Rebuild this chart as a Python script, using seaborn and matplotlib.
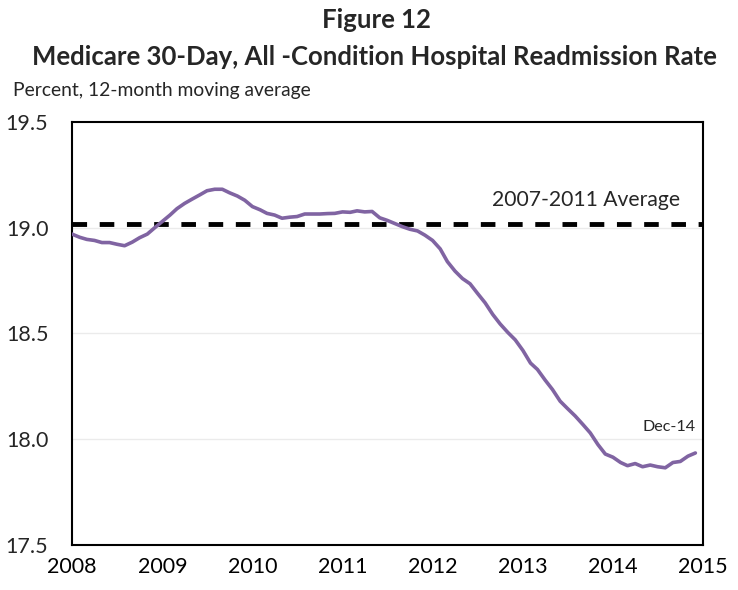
import pandas as pd
import matplotlib.pyplot as plt
import seaborn as sns

# Monthly readmission rate, 12-month moving average (Jan 2008 - Dec 2014)
months = pd.date_range("2008-01-01", "2014-12-01", freq="MS")
rate = [
    18.97, 18.955, 18.945, 18.94, 18.93, 18.93, 18.922, 18.915, 18.932, 18.953, 18.97, 19.0,      # 2008
    19.03, 19.06, 19.09, 19.115, 19.135, 19.155, 19.175, 19.182, 19.182, 19.165, 19.15, 19.13,    # 2009
    19.1, 19.085, 19.068, 19.06, 19.045, 19.05, 19.053, 19.065, 19.065, 19.065, 19.067, 19.068,   # 2010
    19.075, 19.073, 19.08, 19.075, 19.077, 19.047, 19.035, 19.02, 19.005, 18.993, 18.985, 18.965, # 2011
    18.94, 18.9, 18.84, 18.795, 18.76, 18.735, 18.69, 18.645, 18.59, 18.545, 18.505, 18.47,       # 2012
    18.42, 18.36, 18.33, 18.28, 18.235, 18.18, 18.145, 18.11, 18.07, 18.03, 17.975, 17.93,        # 2013
    17.915, 17.89, 17.875, 17.885, 17.87, 17.878, 17.87, 17.865, 17.89, 17.895, 17.92, 17.935,    # 2014
]
avg_2007_2011 = 19.02
year_ticks = [str(y) for y in range(2008, 2016)]
y_ticks = [17.5, 18.0, 18.5, 19.0, 19.5]

df = pd.DataFrame({"month": months, "rate": rate})

sns.set_theme(style="white")
plt.rcParams['font.family'] = ['Lato', 'DejaVu Sans']

fig = plt.figure(figsize=(7.38, 5.90), dpi=100)
ax = fig.add_axes([0.0976, 0.0763, 0.855, 0.7169])

# light horizontal gridlines
for v in [18.0, 18.5, 19.0]:
    ax.axhline(v, color="#ebebeb", lw=1, zorder=0)

ax.axhline(avg_2007_2011, color="black", lw=3.5, dashes=(3.0, 2.6), zorder=2)
sns.lineplot(data=df, x="month", y="rate", color="#8064A2", lw=2.6, ax=ax, zorder=3)

ax.set_xlim(pd.Timestamp("2008-01-01"), pd.Timestamp("2015-01-01"))
ax.set_ylim(17.5, 19.5)
ax.set_xticks([pd.Timestamp(f"{y}-01-01") for y in year_ticks])
ax.set_xticklabels(year_ticks)
ax.set_yticks(y_ticks)
ax.set_yticklabels([f"{v:.1f}" for v in y_ticks])
ax.set_xlabel("")
ax.set_ylabel("")

for s in ax.spines.values():
    s.set_color("black")
    s.set_linewidth(1.5)
ax.tick_params(axis="x", direction="in", length=7, width=1, colors="black", labelsize=15.5, pad=9)
ax.tick_params(axis="y", direction="in", length=0, labelsize=15.5, pad=17)

ax.text(pd.Timestamp("2014-10-01"), 19.104, "2007-2011 Average", ha="right", va="baseline", fontsize=15.2)
ax.text(pd.Timestamp("2014-12-03"), 18.038, "Dec-14", ha="right", va="baseline", fontsize=11.6)

fig.text(0.51, 0.966, "Figure 12", ha="center", va="center", fontsize=18.5, fontweight="bold")
fig.text(0.508, 0.903, "Medicare 30-Day, All -Condition Hospital Readmission Rate",
         ha="center", va="center", fontsize=18.5, fontweight="bold")
fig.text(0.0176, 0.847, "Percent, 12-month moving average", ha="left", va="center", fontsize=13.9)

fig.savefig("out.png", dpi=100)
